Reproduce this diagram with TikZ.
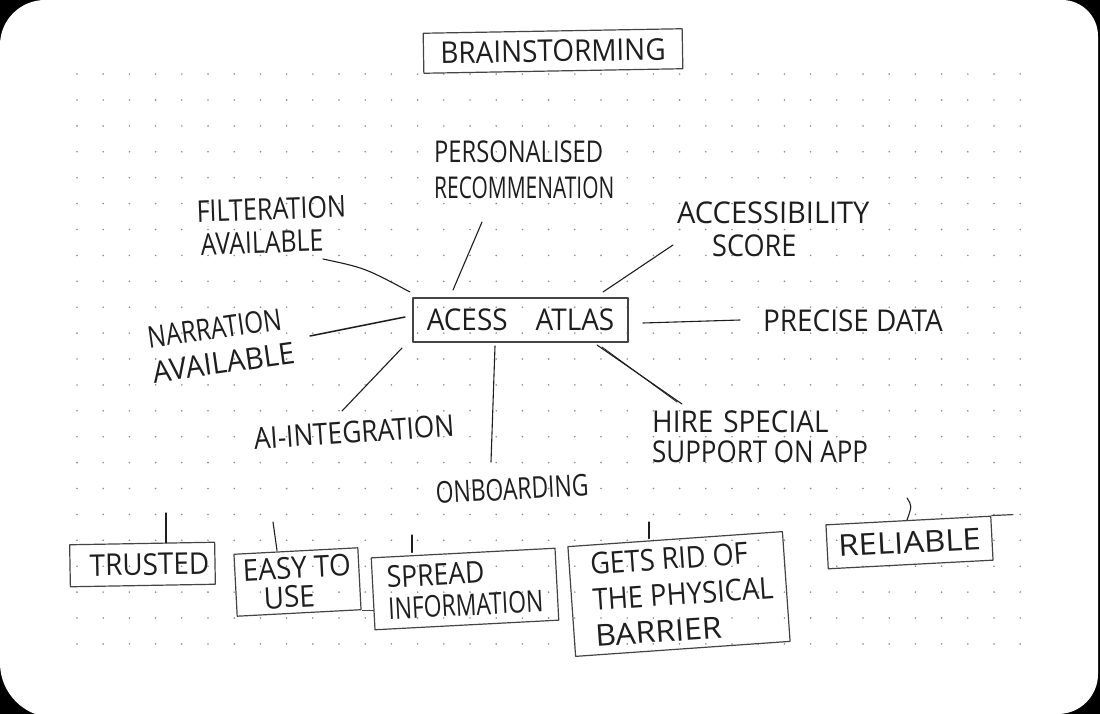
\documentclass[tikz,border=0pt]{standalone}
\usepackage{fontspec}
\setmainfont{Open Sans}
\usetikzlibrary{calc}
\newcommand{\sx}[2]{\scalebox{\fpeval{#1*0.93}}[1]{#2}}
\definecolor{inkc}{HTML}{1E1E1E}
\definecolor{pencil}{HTML}{444444}
\definecolor{dotc}{HTML}{8C8C8C}
\begin{document}
\begin{tikzpicture}[x=1pt,y=-1pt,
  ink/.style={draw=inkc, line width=1.1pt, line cap=round, line join=round},
  lbl/.style={font=\fontsize{30}{33}\selectfont, text=inkc, inner sep=0pt},
  sbox/.style={draw=pencil, line width=1.2pt, inner sep=0pt, line join=round}]
% page and background
\useasboundingbox (0,0) rectangle (1100,714);
\fill[black] (0,0) rectangle (1100,714);
\fill[white] (0,360)
  {[rounded corners=45pt] -- (0,0) -- (550,0)}
  {[rounded corners=36pt] -- (1098,0) -- (1098,360)}
  {[rounded corners=40pt] -- (1098,714) -- (550,714)}
  {[rounded corners=55pt] -- (0,718) -- (0,360)} -- cycle;
% dot grid
\foreach \i in {0,...,36}{\foreach \j in {0,...,22}{
  \fill[dotc] (77+26.2*\i,74.1+25.9*\j) circle[radius=0.9pt];}}
% title
\node[sbox, lbl, minimum width=259pt, minimum height=40pt, rotate=1] (title) at (553,51) {\sx{1}{BRAINSTORMING}};
% centre
\node[sbox, lbl, minimum width=215pt, minimum height=44pt] (atlas) at (520.5,320) {\sx{1}{ACESS}\hspace{28pt}\sx{1}{ATLAS}};
% idea labels
\node[lbl, font=\fontsize{30}{36}\selectfont, align=left, anchor=west] (pers) at (434,170)
  {\sx{0.85}{PERSONALISED}\\\sx{0.75}{RECOMMENATION}};
\node[lbl, align=left, anchor=west, rotate=2] (filt) at (197,228)
  {\sx{0.9}{FILTERATION}\\\hspace*{3pt}\sx{0.89}{AVAILABLE}};
\node[lbl, align=left, anchor=west] (acc) at (677,229)
  {\sx{1.04}{ACCESSIBILITY}\\\hspace*{35pt}\sx{0.97}{SCORE}};
\node[lbl, font=\fontsize{30}{35}\selectfont, align=left, rotate=8] (narr) at (221,345)
  {\sx{0.87}{NARRATION}\\\sx{1.04}{AVAILABLE}};
\node[lbl] (prec) at (853,321) {\sx{1}{PRECISE DATA}};
\node[lbl, rotate=4] (ai) at (354,432) {\sx{0.94}{AI-INTEGRATION}};
\node[lbl, rotate=3] (onb) at (512,489) {\sx{0.82}{ONBOARDING}};
\node[lbl, font=\fontsize{30}{30}\selectfont, align=left, anchor=west] (hire) at (652,437)
  {\sx{1}{HIRE}\hspace{10pt}\sx{1}{SPECIAL}\\\sx{0.93}{SUPPORT ON APP}};
% connectors from the centre
\coordinate (p1) at (453,290); \coordinate (p2) at (482,222);
\coordinate (a1) at (603,292); \coordinate (a2) at (673,245);
\coordinate (f1) at (410,292); \coordinate (f2) at (323,259);
\coordinate (n1) at (405,317); \coordinate (n2) at (310,336);
\coordinate (r1) at (643,323); \coordinate (r2) at (740,320);
\coordinate (i1) at (402,348); \coordinate (i2) at (342,411);
\coordinate (o1) at (495,346); \coordinate (o2) at (491,462);
\coordinate (h1) at (597,345); \coordinate (h2) at (682,404);
\coordinate (h3) at (602,347); \coordinate (h4) at (677,402);
\draw[ink] (p1) -- (p2);
\draw[ink] (a1) -- (a2);
\draw[ink] (f1) .. controls (365,268) .. (f2);
\draw[ink, line width=1.5pt] (n1) -- (n2);
\draw[ink] (r1) -- (r2);
\draw[ink] (i1) -- (i2);
\draw[ink] (o1) -- (o2);
\draw[ink] (h1) -- (h2);
\draw[ink, line width=0.8pt] (h3) -- (h4);
% bottom boxes
\node[sbox, lbl, minimum width=145pt, minimum height=42pt, rotate=1] (trusted) at (142.5,564.5)
  {\hspace*{14pt}\sx{1}{TRUSTED}};
\node[sbox, lbl, font=\fontsize{30}{29}\selectfont, align=center, minimum width=124pt, minimum height=62pt, rotate=3] (easy) at (297.5,582)
  {\sx{1}{EASY TO}\\\hspace*{-18pt}\sx{1}{USE}};
\node[sbox, lbl, font=\fontsize{30}{32}\selectfont, align=left, minimum width=184pt, minimum height=72pt, rotate=3] (spread) at (465,589)
  {\sx{0.95}{SPREAD}\\\sx{0.82}{INFORMATION}};
\node[sbox, lbl, font=\fontsize{30}{36}\selectfont, align=left, minimum width=215pt, minimum height=110pt, rotate=4] (gets) at (679,594)
  {\hspace*{8pt}\sx{0.97}{GETS RID OF}\\\hspace*{8pt}\sx{0.98}{THE PHYSICAL}\\\hspace*{8pt}\sx{1.15}{BARRIER}};
\node[sbox, lbl, minimum width=165pt, minimum height=44pt, rotate=3] (reliable) at (909.5,542.5)
  {\sx{1.18}{RELIABLE}};
\draw[sbox] (easy.south east) -- ++(12,0);
\draw[sbox] (reliable.north east) -- ++(22,-1);
% stubs above the bottom boxes
\coordinate (s1) at (166,513);
\coordinate (s2) at (273,522);
\coordinate (s3) at (412,535);
\coordinate (s4) at (649,522);
\coordinate (s5) at (907,498);
\draw[ink] (s1) -- (s1 |- trusted.north);
\draw[ink] (s2) -- ($(s2 |- easy.north)+(4,0)$);
\draw[ink] (s3) -- (s3 |- spread.north);
\draw[ink] (s4) -- (s4 |- gets.north);
\draw[ink] (s5) .. controls (912,506) .. (s5 |- reliable.north);
\end{tikzpicture}
\end{document}
